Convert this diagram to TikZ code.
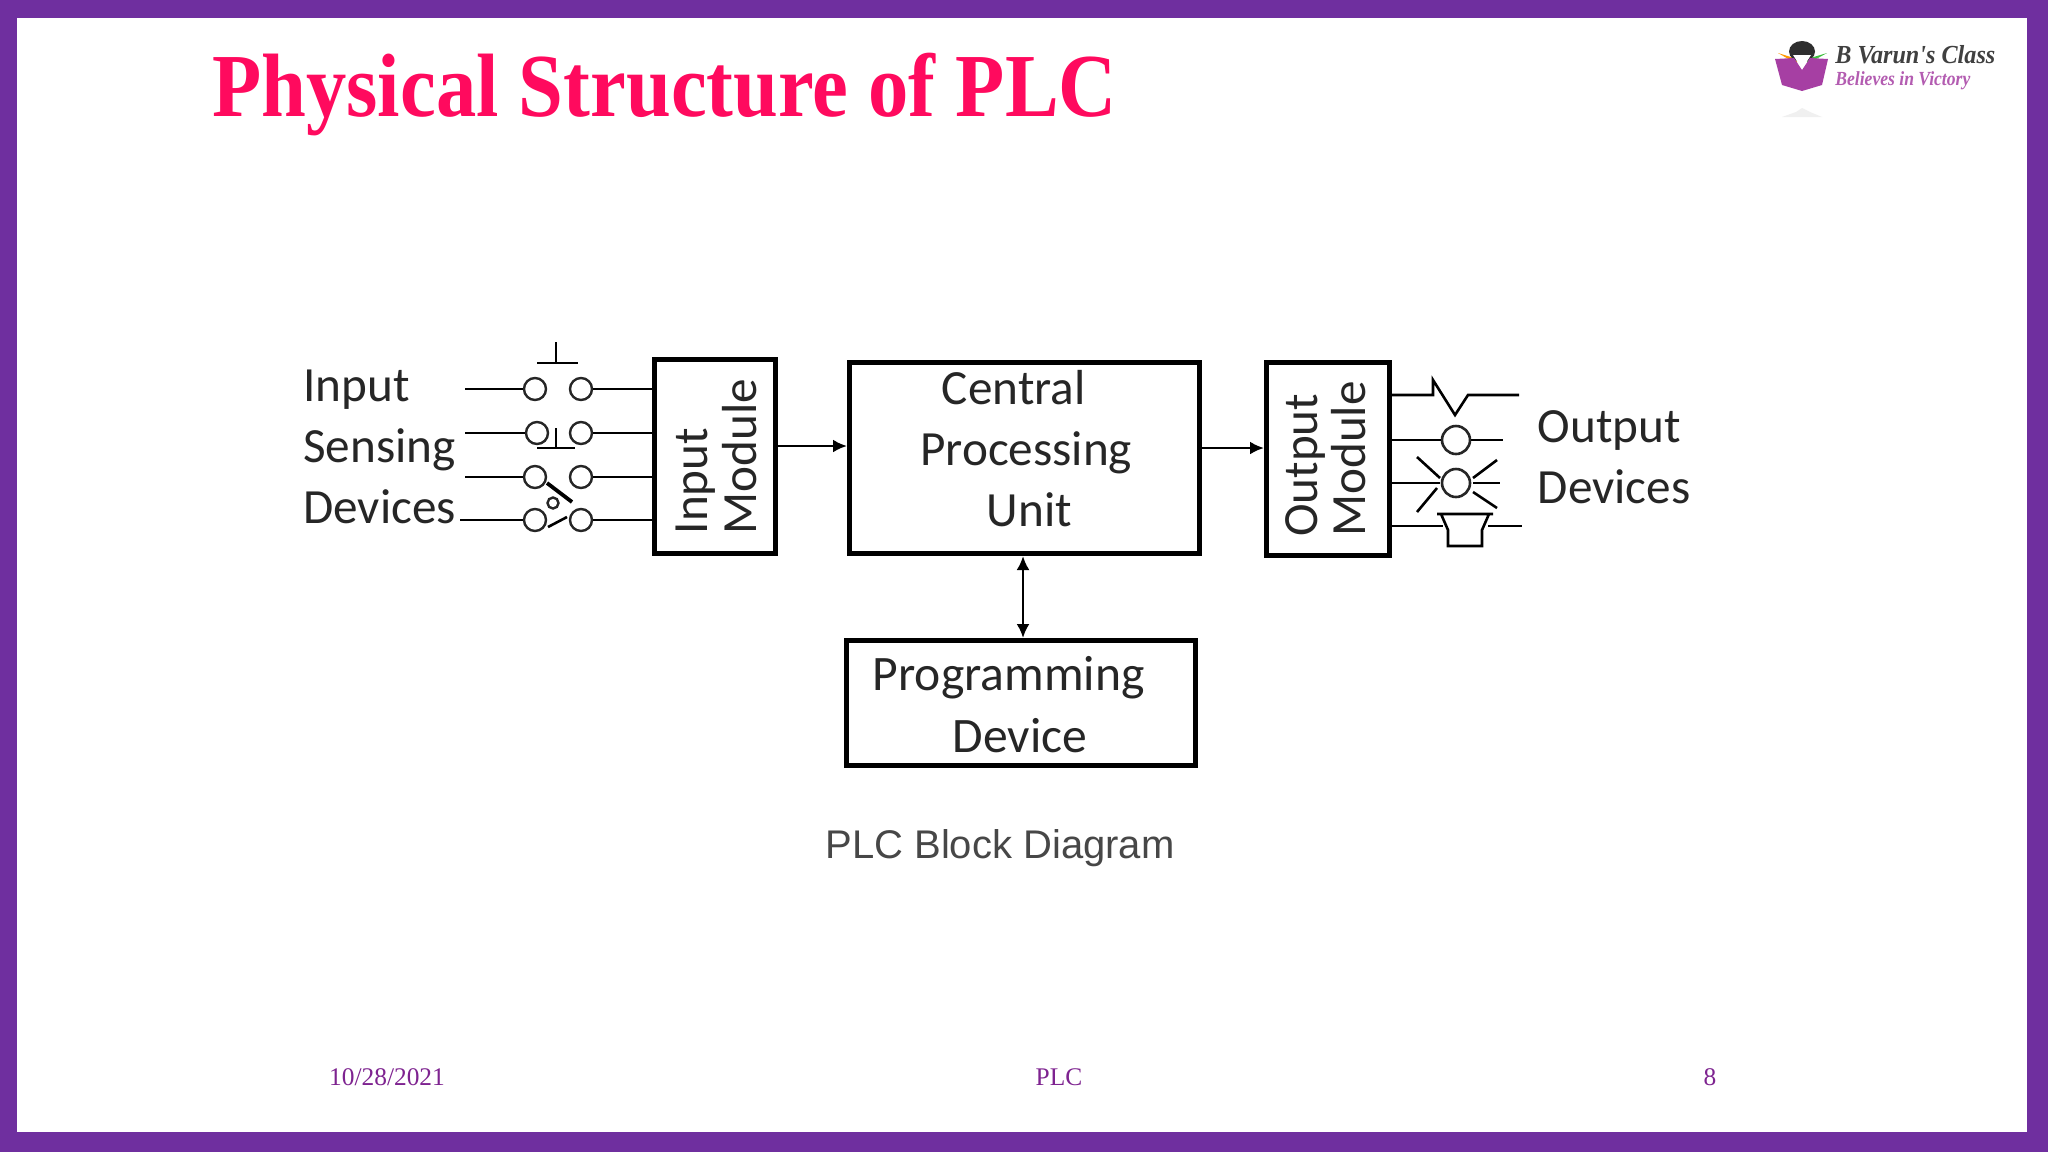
\documentclass[tikz,border=0pt]{standalone}
\usepackage{fontspec}
\setmainfont{Carlito}
\newfontfamily\serifface{Liberation Serif}
\newfontfamily\captionface{Liberation Sans}
\usetikzlibrary{arrows.meta,calc,positioning}

\definecolor{framepurple}{HTML}{6F2F9F}
\definecolor{titlepink}{HTML}{FF0A5E}
\definecolor{footpurple}{HTML}{7E2390}
\definecolor{bookpurple}{HTML}{A63FA3}
\definecolor{inkgray}{HTML}{262626}

\newcommand{\turnedtext}[3]{\hspace*{#3}\rotatebox{90}{\fontsize{24.6}{24}\selectfont\begin{tabular}{@{}l@{}}#1\\#2\end{tabular}}}

\begin{document}
\begin{tikzpicture}[
    x=0.5pt, y=-0.5pt,
    font=\fontsize{24.6}{30.5}\selectfont,
    blockbox/.style={draw=black, line width=2.5pt, fill=white, inner sep=0pt, text=inkgray},
    blocktext/.style={align=center, inner sep=0pt, text=inkgray},
    sidetext/.style={align=left, inner sep=0pt, text=inkgray, anchor=north west},
    term/.style={circle, draw=inkgray, line width=1.2pt, fill=white, inner sep=0pt, minimum size=11pt},
    lamp/.style={circle, draw=inkgray, line width=1.3pt, fill=white, inner sep=0pt, minimum size=14pt},
    wire/.style={draw=black, line width=1.3pt},
    arr/.style={-{Latex[length=7pt, width=6.5pt]}, line width=1.3pt},
    twoway/.style={{Latex[length=7pt, width=6.5pt]}-{Latex[length=7pt, width=6.5pt]}, line width=1.3pt},
    foot/.style={font=\serifface\fontsize{12.7}{15}\selectfont, text=footpurple, inner sep=0pt, anchor=base},
  ]
    \useasboundingbox (0,0) rectangle (2048,1152);
    \fill[framepurple] (0,0) rectangle (2048,1152);
    \fill[white] (17,18) rectangle (2027,1132);

    \node[font=\serifface\bfseries\fontsize{45}{50}\selectfont, text=titlepink, inner sep=0pt, anchor=base west, xscale=0.895] (title) at (212,116) {Physical Structure of PLC};

    % logo in the top right corner
    \fill[black!6] (1782,117) -- (1796,112) -- (1802,108) -- (1810,112) -- (1822,117) -- cycle;
    \fill[orange!80!yellow] (1778,53) -- (1797,59) -- (1797,64) -- cycle;
    \fill[green!50!gray] (1827,53) -- (1807,59) -- (1807,64) -- cycle;
    \fill[black!82] (1802,51.5) ellipse [x radius=13, y radius=10.5];
    \fill[bookpurple] (1775,59) -- (1794,58) -- (1802,70) -- (1810,58) -- (1828,59) -- (1822,85) -- (1802,91) -- (1782,85) -- cycle;
    \fill[white] (1793,55) -- (1811,55) -- (1802,69) -- cycle;
    \node[font=\serifface\bfseries\itshape\fontsize{13}{15}\selectfont, text=black!75, inner sep=0pt, anchor=base west, xscale=0.93] (logoname) at (1835,63) {B Varun's Class};
    \node[font=\serifface\bfseries\itshape\fontsize{10}{14}\selectfont, text=bookpurple!85, inner sep=0pt, anchor=base west, xscale=0.88] (logotag) at (1835,85) {Believes in Victory};

    % the four blocks
    \node[blockbox, minimum width=60.5pt, minimum height=97pt] (inmod) at (715,456.5) {\turnedtext{Input}{Module}{7.5pt}};
    \node[blockbox, right=34.5pt of inmod, yshift=-0.75pt, minimum width=175pt, minimum height=95.5pt] (cpu) {};
    \node[blockbox, right=31pt of cpu, yshift=-0.5pt, minimum width=61.5pt, minimum height=96.5pt] (outmod) {\turnedtext{Output}{Module}{4pt}};
    \node[blockbox, below=41pt of cpu, xshift=-1.75pt, minimum width=174.5pt, minimum height=62.5pt] (prog) {};

    \node[blocktext] (cputext) at ([xshift=0.85pt, yshift=4.5pt]cpu.center) {Central\hspace*{12.5pt}\\Processing\\\hspace*{3.3pt}Unit};
    \node[blocktext, font=\fontsize{24.8}{31}\selectfont] (progtext) at ([xshift=-6.2pt, yshift=-1pt]prog.center) {Programming\\\hspace*{11.3pt}Device};

    \draw[arr] ([yshift=5.25pt]inmod.east) -- ([yshift=5.25pt]inmod.east -| cpu.west);
    \draw[arr] ([yshift=5pt]cpu.east) -- ([yshift=5pt]cpu.east -| outmod.west);
    \draw[twoway] ([xshift=-0.75pt]cpu.south) -- ([xshift=-0.75pt]cpu.south |- prog.north);

    % input side
    \node[sidetext] (intext) at (303,370) {Input\\Sensing\\Devices};

    \node[term] (s1l) at (535,389) {};
    \node[term] (s1r) at (581,389) {};
    \node[term] (s2l) at (537,433) {};
    \node[term] (s2r) at (581,433) {};
    \node[term] (s3l) at (535,477) {};
    \node[term] (s3r) at (581,477) {};
    \node[term] (s4l) at (535,520) {};
    \node[term] (s4r) at (581,520) {};

    \coordinate (s1end) at (465,389);
    \coordinate (s2end) at (465,433);
    \coordinate (s3end) at (465,477);
    \coordinate (s4end) at (460,520);

    \draw[wire] (s1end) -- (s1l);
    \draw[wire] (s2end) -- (s2l);
    \draw[wire] (s3end) -- (s3l);
    \draw[wire] (s4end) -- (s4l);
    \draw[wire] (s1r) -- (s1r -| inmod.west);
    \draw[wire] (s2r) -- (s2r -| inmod.west);
    \draw[wire] (s3r) -- (s3r -| inmod.west);
    \draw[wire] (s4r) -- (s4r -| inmod.west);

    % push buttons and the limit switch
    \draw[wire] (556,342) -- (556,363) (537,363) -- (578,363);
    \draw[wire] (556,428) -- (556,448) (537,448) -- (575,448);
    \draw[wire, line width=1.9pt] (547,483) -- (572,502);
    \draw[wire] (548,527) -- (567,517);
    \node[term, minimum size=5.5pt] (flag) at (553,503) {};

    % output side
    \node[sidetext] (outtext) at (1537.5,410.5) {Output\\Devices};

    \coordinate (o1a) at (1433,395);
    \coordinate (o1b) at (1468,395);
    \coordinate (o1end) at (1519,395);
    \draw[wire] (o1a -| outmod.east) -- (o1a) -- (1433,380) -- (1455,415) -- (o1b) -- (o1end);

    \node[lamp] (o2) at (1456,440) {};
    \node[lamp] (o3) at (1456,483) {};
    \coordinate (o2end) at (1503,440);
    \coordinate (o3end) at (1500,483);
    \draw[wire] (o2 -| outmod.east) -- (o2);
    \draw[wire] (o2) -- (o2end);
    \draw[wire] (o3 -| outmod.east) -- (1440,483);
    \draw[wire] (1473,483) -- (o3end);
    \draw[wire] (1417,457) -- (1440,478) (1497,460) -- (1473,478) (1437,488) -- (1417,512) (1473,492) -- (1497,508);

    \coordinate (o4a) at (1443,526);
    \coordinate (o4b) at (1488,526);
    \coordinate (o4end) at (1522,526);
    \draw[wire] (o4a -| outmod.east) -- (o4a);
    \draw[wire] (o4b) -- (o4end);
    \draw[wire] (1437,514) -- (1493,514) (1441,514) -- (1448,530) -- (1448,546) -- (1482,546) -- (1482,530) -- (1489,514);

    \node[font=\captionface\fontsize{20}{24}\selectfont, text=black!72, inner sep=0pt, anchor=base] (caption) at (1000,858) {PLC Block Diagram};

    \node[foot] (date) at (387,1085) {10/28/2021};
    \node[foot] (topic) at (1059,1085) {PLC};
    \node[foot] (page) at (1710,1085) {8};
  \end{tikzpicture}
\end{document}
